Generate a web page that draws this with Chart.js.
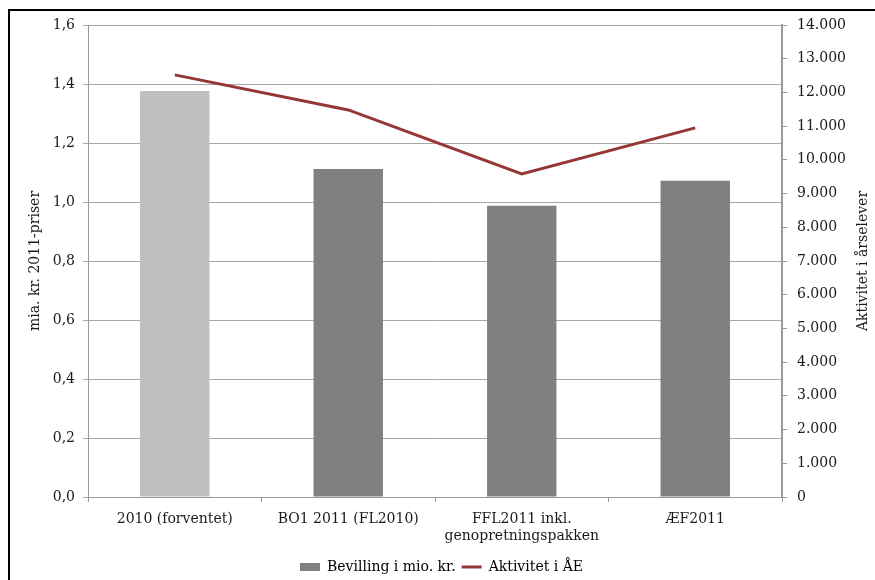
<!DOCTYPE html>
<html>
<head>
<meta charset="utf-8">
<script src="https://cdn.jsdelivr.net/npm/chart.js@4.4.1/dist/chart.umd.min.js"></script>
<style>
  html, body { margin: 0; padding: 0; background: #fff; }
  #wrap { width: 875px; height: 580px; }
</style>
</head>
<body>
<div id="wrap"><canvas id="myChart" width="875" height="580"></canvas></div>
<script>
// categories and values
const categories = ["2010 (forventet)", "BO1 2011 (FL2010)", ["FFL2011 inkl.", "genopretningspakken"], "ÆF2011"];
const bevilling = [1.376, 1.112, 0.987, 1.072];   // mia. kr. 2011-priser
const aktivitet = [12520, 11480, 9580, 10950];    // årselever
const barColors = ["#bfbfbf", "#808080", "#808080", "#808080"];
const leftTicks = [0, 0.2, 0.4, 0.6, 0.8, 1.0, 1.2, 1.4, 1.6];
const rightMax = 14000;

const FONT = "'DejaVu Serif', 'Liberation Serif', serif";
const lineColor = "#953735";
const axisGray = "#999999";

// frame and rotated axis titles
const extras = {
    id: "extras",
    afterDraw(chart) {
        const ctx = chart.ctx;
        const a = chart.chartArea;
        const midY = (a.top + a.bottom) / 2;
        ctx.save();
        ctx.strokeStyle = "#000";
        ctx.lineWidth = 2;
        ctx.beginPath();
        ctx.moveTo(9, 600);
        ctx.lineTo(9, 10);
        ctx.lineTo(900, 10);
        ctx.stroke();
        ctx.restore();

        [["mia. kr. 2011-priser", 35], ["Aktivitet i årselever", 863]].forEach(([txt, x]) => {
            ctx.save();
            ctx.fillStyle = "#1a1a1a";
            ctx.font = "14px " + FONT;
            ctx.textAlign = "center";
            ctx.textBaseline = "middle";
            ctx.translate(x, midY);
            ctx.rotate(-Math.PI / 2);
            ctx.fillText(txt, 0, 0);
            ctx.restore();
        });
    }
};

new Chart("myChart", {
    type: "bar",
    data: {
        labels: categories,
        datasets: [{
            type: "line",
            label: "Aktivitet i ÅE",
            data: aktivitet,
            yAxisID: "y2",
            borderColor: lineColor,
            borderWidth: 3,
            pointRadius: 0,
            tension: 0,
            order: 0
        }, {
            type: "bar",
            label: "Bevilling i mio. kr.",
            data: bevilling,
            yAxisID: "y",
            backgroundColor: barColors,
            barPercentage: 0.4,
            categoryPercentage: 1.0,
            order: 1
        }]
    },
    options: {
        responsive: false,
        animation: false,
        devicePixelRatio: 1,
        layout: { padding: { left: 8, right: 0, top: 25, bottom: -4 } },
        plugins: {
            tooltip: { enabled: false },
            legend: {
                position: "bottom",
                labels: {
                    color: "#1a1a1a",
                    font: { family: FONT, size: 14 },
                    boxWidth: 20,
                    boxHeight: 8,
                    padding: 6,
                    generateLabels() {
                        return [
                            { text: "Bevilling i mio. kr.", fillStyle: "#808080", strokeStyle: "#808080", lineWidth: 0, pointStyle: "rect", datasetIndex: 1 },
                            { text: "Aktivitet i ÅE", fillStyle: lineColor, strokeStyle: lineColor, lineWidth: 3, pointStyle: "line", datasetIndex: 0 }
                        ];
                    },
                    usePointStyle: true,
                    pointStyleWidth: 20
                }
            }
        },
        scales: {
            x: {
                grid: { offset: true, drawOnChartArea: false, drawTicks: true, tickLength: 5, color: axisGray },
                border: { color: axisGray, width: 1 },
                ticks: { color: "#1a1a1a", font: { family: FONT, size: 14 }, padding: 9, maxRotation: 0, autoSkip: false },
                afterFit(s) { s.height = 57; }
            },
            y: {
                position: "left",
                min: 0,
                max: 1.6,
                afterBuildTicks(s) { s.ticks = leftTicks.map(v => ({ value: v })); },
                grid: { color: "#a6a6a6", tickLength: 5 },
                border: { color: axisGray, width: 1 },
                ticks: {
                    color: "#1a1a1a",
                    font: { family: FONT, size: 14 },
                    padding: 8,
                    callback: v => v.toFixed(1).replace(".", ",")
                },
                afterFit(s) { s.width = 80; }
            },
            y2: {
                position: "right",
                min: 0,
                max: rightMax,
                grid: { drawOnChartArea: false, tickLength: 5, color: axisGray },
                border: { color: axisGray, width: 2 },
                ticks: {
                    stepSize: 1000,
                    color: "#1a1a1a",
                    font: { family: FONT, size: 14 },
                    padding: 10,
                    callback: v => v.toString().replace(/\B(?=(\d{3})+(?!\d))/g, ".")
                },
                afterFit(s) { s.width = 93; }
            }
        }
    },
    plugins: [extras]
});
</script>
</body>
</html>
